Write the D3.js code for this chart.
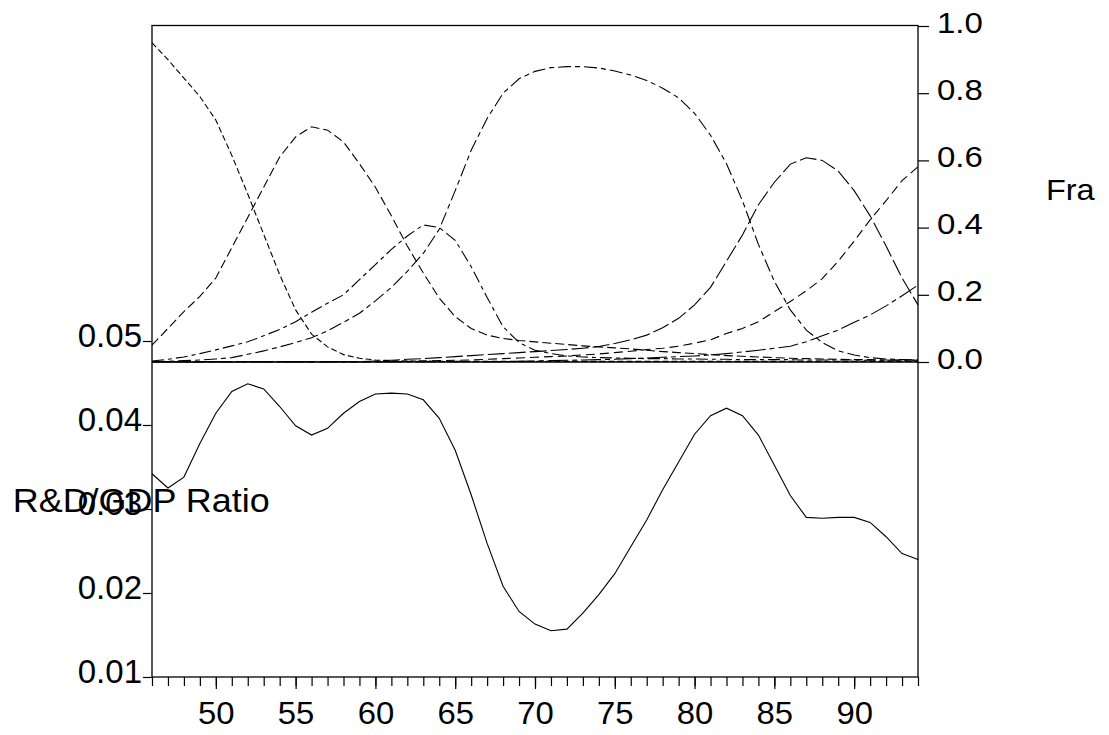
<!DOCTYPE html>
<html>
<head>
<meta charset="utf-8">
<script src="https://cdn.jsdelivr.net/npm/d3@7"></script>
<style>
  body { margin: 0; background: #fff; }
  svg { display: block; }
  text { font-family: "Liberation Sans", Arial, Helvetica, sans-serif; fill: #000; }
</style>
</head>
<body>
<svg id="chart" width="1109" height="735"></svg>
<script>
// Years 1946–1994 (two-digit labels)
const years = [46,47,48,49,50,51,52,53,54,55,56,57,58,59,60,61,62,63,64,65,66,67,68,69,70,
               71,72,73,74,75,76,77,78,79,80,81,82,83,84,85,86,87,88,89,90,91,92,93,94];

// R&D / GDP ratio (left axis)
const rdRatio = [0.0342,0.0325,0.0338,0.0378,0.0414,0.0440,0.0449,0.0443,0.0422,0.0399,
                 0.0388,0.0396,0.0414,0.0428,0.0437,0.0438,0.0437,0.0430,0.0408,0.0370,
                 0.0317,0.0259,0.0208,0.0178,0.0163,0.0155,0.0157,0.0176,0.0198,0.0223,
                 0.0255,0.0287,0.0323,0.0356,0.0389,0.0411,0.0420,0.0411,0.0388,0.0352,
                 0.0316,0.0290,0.0289,0.0290,0.0290,0.0284,0.0267,0.0247,0.0240];

// Fractions (right axis), one array per regime
const frac1 = [0.950,0.900,0.845,0.790,0.720,0.615,0.500,0.380,0.260,0.155,0.083,0.045,0.022,0.011,
               0.006,0.004,0.003,0.003,0.002,0.002,0.002,0.002,0.002,0.002,0.002,0.002,0.002,0.002,
               0.002,0.002,0.002,0.002,0.002,0.002,0.002,0.002,0.002,0.002,0.002,0.002,0.002,0.002,
               0.002,0.002,0.002,0.002,0.002,0.002,0.002];
const frac2 = [0.050,0.100,0.150,0.195,0.250,0.340,0.430,0.520,0.610,0.670,0.700,0.690,0.655,0.590,
               0.520,0.435,0.345,0.265,0.190,0.135,0.100,0.080,0.070,0.064,0.060,0.056,0.052,0.048,
               0.045,0.042,0.039,0.035,0.031,0.028,0.025,0.022,0.019,0.017,0.015,0.013,0.011,0.010,
               0.009,0.008,0.007,0.007,0.006,0.006,0.006];
const frac3 = [0.003,0.008,0.015,0.025,0.036,0.048,0.060,0.078,0.097,0.120,0.148,0.175,0.200,0.245,
               0.290,0.335,0.375,0.408,0.400,0.362,0.284,0.192,0.105,0.058,0.035,0.025,0.018,0.015,
               0.013,0.012,0.011,0.010,0.010,0.009,0.009,0.008,0.008,0.007,0.007,0.007,0.007,0.006,
               0.006,0.006,0.006,0.005,0.005,0.005,0.005];
const frac4 = [0.001,0.002,0.004,0.006,0.009,0.013,0.023,0.033,0.045,0.058,0.072,0.093,0.118,0.145,
               0.182,0.222,0.270,0.323,0.395,0.510,0.630,0.725,0.800,0.843,0.865,0.876,0.879,0.879,
               0.875,0.866,0.854,0.838,0.815,0.786,0.740,0.675,0.590,0.480,0.350,0.240,0.155,0.095,
               0.058,0.033,0.021,0.013,0.009,0.007,0.006];
const frac5 = [0.001,0.001,0.001,0.001,0.001,0.001,0.001,0.001,0.001,0.001,0.001,0.001,0.001,0.001,
               0.003,0.005,0.008,0.010,0.013,0.016,0.019,0.022,0.025,0.028,0.031,0.034,0.037,0.041,
               0.046,0.055,0.066,0.080,0.102,0.130,0.170,0.222,0.300,0.378,0.468,0.535,0.589,0.608,
               0.600,0.568,0.510,0.435,0.345,0.250,0.170];
const frac6 = [0.001,0.001,0.001,0.001,0.001,0.001,0.001,0.001,0.001,0.001,0.001,0.001,0.001,0.001,
               0.001,0.001,0.002,0.003,0.004,0.005,0.006,0.008,0.010,0.012,0.014,0.016,0.018,0.021,
               0.024,0.028,0.032,0.037,0.041,0.047,0.056,0.066,0.085,0.100,0.120,0.150,0.180,0.212,
               0.248,0.300,0.360,0.423,0.480,0.540,0.581];
const frac7 = [0.000,0.000,0.000,0.000,0.000,0.000,0.000,0.000,0.000,0.000,0.000,0.000,0.000,0.000,
               0.001,0.001,0.001,0.001,0.001,0.001,0.001,0.001,0.001,0.002,0.003,0.004,0.005,0.006,
               0.007,0.008,0.010,0.012,0.014,0.016,0.018,0.021,0.025,0.030,0.035,0.041,0.047,0.060,
               0.078,0.095,0.118,0.140,0.167,0.197,0.229];

const leftTicks = [0.01, 0.02, 0.03, 0.04, 0.05];
const rightTicks = [0.0, 0.2, 0.4, 0.6, 0.8, 1.0];
const yearLabels = [50, 55, 60, 65, 70, 75, 80, 85, 90];

const fractionSeries = [
  { values: frac1, dash: "6,3" },
  { values: frac2, dash: "9,4" },
  { values: frac3, dash: "12,4,4,4" },
  { values: frac4, dash: "13,4,5,4" },
  { values: frac5, dash: "17,4" },
  { values: frac6, dash: "9,5" },
  { values: frac7, dash: "20,4,5,4" }
];

const svg = d3.select("#chart");
const plotLeft = 152, plotRight = 918, plotTop = 25.5, plotBottom = 677;

const x = d3.scaleLinear().domain([46, 94]).range([plotLeft, plotRight]);
const yL = d3.scaleLinear().domain([0.01, 0.05]).range([plotBottom, 341]);
const yR = d3.scaleLinear().domain([0, 1]).range([362, 26]);

// widen glyphs horizontally around each text's own anchor x
function widen(sel, sx) {
  sel.each(function () {
    const t = d3.select(this);
    const x0 = +t.attr("x") || 0;
    t.attr("transform", `translate(${x0},0) scale(${sx},1) translate(${-x0},0)`);
  });
}

// frame
svg.append("rect")
  .attr("x", plotLeft).attr("y", plotTop)
  .attr("width", plotRight - plotLeft).attr("height", plotBottom - plotTop)
  .attr("fill", "none").attr("stroke", "#000").attr("stroke-width", 1.3);

// zero line of the fraction panel
svg.append("line")
  .attr("x1", plotLeft).attr("x2", plotRight)
  .attr("y1", yR(0)).attr("y2", yR(0))
  .attr("stroke", "#000").attr("stroke-width", 1.3);

// left axis
const gL = svg.append("g").attr("transform", `translate(${plotLeft},0)`)
  .call(d3.axisLeft(yL).tickValues(leftTicks).tickSize(9).tickPadding(1)
        .tickFormat(d3.format(".2f")));
gL.select(".domain").remove();
gL.selectAll("text").attr("font-size", 33).attr("dy", "0.18em")
  .style("font-family", '"Liberation Sans", Arial, sans-serif');

// right axis
const gR = svg.append("g").attr("transform", `translate(${plotRight},0)`)
  .call(d3.axisRight(yR).tickValues(rightTicks).tickSize(11).tickPadding(8)
        .tickFormat(d3.format(".1f")));
gR.select(".domain").remove();
gR.selectAll("text").attr("font-size", 30).attr("dy", "0.2em")
  .style("font-family", '"Liberation Sans", Arial, sans-serif')
  .call(widen, 1.1);

// bottom axis: minor ticks every year, major ticks with labels
const gB1 = svg.append("g").attr("transform", `translate(0,${plotBottom})`)
  .call(d3.axisBottom(x).tickValues(years).tickSize(9).tickFormat(""));
gB1.select(".domain").remove();
const gB2 = svg.append("g").attr("transform", `translate(0,${plotBottom})`)
  .call(d3.axisBottom(x).tickValues(yearLabels).tickSize(12).tickPadding(13)
        .tickFormat(d3.format("d")));
gB2.select(".domain").remove();
gB2.selectAll("text").attr("font-size", 31)
  .style("font-family", '"Liberation Sans", Arial, sans-serif')
  .call(widen, 1.06);

svg.selectAll(".tick line").attr("stroke", "#000").attr("stroke-width", 1.2);

// series
const lineR = d3.line().x((d, i) => x(years[i])).y(d => yR(d));
svg.append("g").selectAll("path").data(fractionSeries).join("path")
  .attr("d", s => lineR(s.values))
  .attr("fill", "none").attr("stroke", "#000").attr("stroke-width", 1.1)
  .attr("stroke-dasharray", s => s.dash);

const lineL = d3.line().x((d, i) => x(years[i])).y(d => yL(d));
svg.append("path").attr("d", lineL(rdRatio))
  .attr("fill", "none").attr("stroke", "#000").attr("stroke-width", 1.1);

// axis titles
svg.append("text").attr("x", 12.7).attr("y", 512).attr("font-size", 33)
  .text("R&D/GDP Ratio").call(widen, 1.09);
svg.append("text").attr("x", 1046).attr("y", 200).attr("font-size", 30)
  .text("Fra").call(widen, 1.08);
</script>
</body>
</html>
